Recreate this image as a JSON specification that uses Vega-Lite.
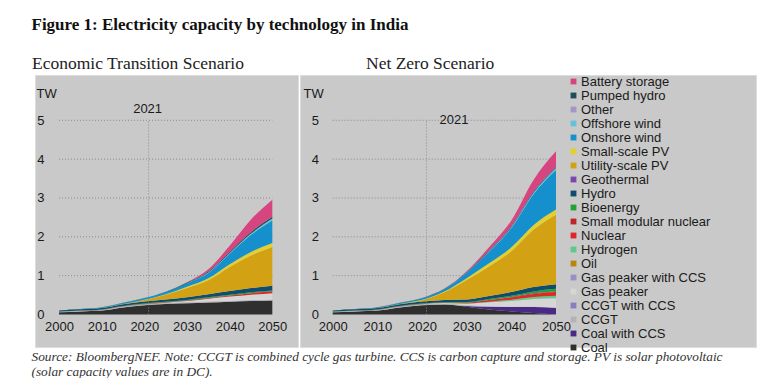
{
  "$schema": "https://vega.github.io/schema/vega-lite/v6.json",
  "background": "white",
  "padding": {"left": 31, "top": 16, "right": 14, "bottom": 0},
  "title": {"text": "Figure 1: Electricity capacity by technology in India", "anchor": "start", "font": "Liberation Serif", "fontSize": 17, "fontWeight": "bold", "color": "#111111", "offset": 20},
  "config": {
    "view": {"fill": "#c9c9c9", "stroke": "#dcdcdc", "strokeWidth": 1},
    "axis": {"labelFont": "Liberation Sans", "labelFontSize": 13, "labelColor": "#1a1a1a", "grid": false, "domain": false, "ticks": false, "titleFont": "Liberation Sans", "titleFontSize": 13, "titleFontWeight": "normal", "titleColor": "#1a1a1a"},
    "concat": {"spacing": 0}
  },
  "datasets": {
    "et": [
      {"year":2000,"tech":"Coal","tw":0.06},{"year":2005,"tech":"Coal","tw":0.08},{"year":2010,"tech":"Coal","tw":0.10},{"year":2015,"tech":"Coal","tw":0.18},{"year":2020,"tech":"Coal","tw":0.24},{"year":2025,"tech":"Coal","tw":0.27},{"year":2030,"tech":"Coal","tw":0.29},{"year":2035,"tech":"Coal","tw":0.31},{"year":2040,"tech":"Coal","tw":0.33},{"year":2045,"tech":"Coal","tw":0.35},{"year":2050,"tech":"Coal","tw":0.36},
      {"year":2000,"tech":"CCGT","tw":0.01},{"year":2005,"tech":"CCGT","tw":0.015},{"year":2010,"tech":"CCGT","tw":0.02},{"year":2015,"tech":"CCGT","tw":0.025},{"year":2020,"tech":"CCGT","tw":0.025},{"year":2025,"tech":"CCGT","tw":0.025},{"year":2030,"tech":"CCGT","tw":0.025},{"year":2035,"tech":"CCGT","tw":0.025},{"year":2040,"tech":"CCGT","tw":0.02},{"year":2045,"tech":"CCGT","tw":0.02},{"year":2050,"tech":"CCGT","tw":0.02},
      {"year":2000,"tech":"Gas peaker","tw":0},{"year":2005,"tech":"Gas peaker","tw":0},{"year":2010,"tech":"Gas peaker","tw":0},{"year":2015,"tech":"Gas peaker","tw":0},{"year":2020,"tech":"Gas peaker","tw":0},{"year":2025,"tech":"Gas peaker","tw":0.01},{"year":2030,"tech":"Gas peaker","tw":0.03},{"year":2035,"tech":"Gas peaker","tw":0.07},{"year":2040,"tech":"Gas peaker","tw":0.11},{"year":2045,"tech":"Gas peaker","tw":0.14},{"year":2050,"tech":"Gas peaker","tw":0.17},
      {"year":2000,"tech":"Nuclear","tw":0.003},{"year":2005,"tech":"Nuclear","tw":0.003},{"year":2010,"tech":"Nuclear","tw":0.005},{"year":2015,"tech":"Nuclear","tw":0.006},{"year":2020,"tech":"Nuclear","tw":0.007},{"year":2025,"tech":"Nuclear","tw":0.01},{"year":2030,"tech":"Nuclear","tw":0.015},{"year":2035,"tech":"Nuclear","tw":0.02},{"year":2040,"tech":"Nuclear","tw":0.03},{"year":2045,"tech":"Nuclear","tw":0.04},{"year":2050,"tech":"Nuclear","tw":0.05},
      {"year":2000,"tech":"Bioenergy","tw":0.002},{"year":2005,"tech":"Bioenergy","tw":0.003},{"year":2010,"tech":"Bioenergy","tw":0.005},{"year":2015,"tech":"Bioenergy","tw":0.008},{"year":2020,"tech":"Bioenergy","tw":0.01},{"year":2025,"tech":"Bioenergy","tw":0.012},{"year":2030,"tech":"Bioenergy","tw":0.014},{"year":2035,"tech":"Bioenergy","tw":0.016},{"year":2040,"tech":"Bioenergy","tw":0.018},{"year":2045,"tech":"Bioenergy","tw":0.02},{"year":2050,"tech":"Bioenergy","tw":0.02},
      {"year":2000,"tech":"Hydro","tw":0.027},{"year":2005,"tech":"Hydro","tw":0.032},{"year":2010,"tech":"Hydro","tw":0.038},{"year":2015,"tech":"Hydro","tw":0.045},{"year":2020,"tech":"Hydro","tw":0.05},{"year":2025,"tech":"Hydro","tw":0.06},{"year":2030,"tech":"Hydro","tw":0.07},{"year":2035,"tech":"Hydro","tw":0.08},{"year":2040,"tech":"Hydro","tw":0.095},{"year":2045,"tech":"Hydro","tw":0.11},{"year":2050,"tech":"Hydro","tw":0.12},
      {"year":2000,"tech":"Utility-scale PV","tw":0},{"year":2005,"tech":"Utility-scale PV","tw":0},{"year":2010,"tech":"Utility-scale PV","tw":0.001},{"year":2015,"tech":"Utility-scale PV","tw":0.005},{"year":2020,"tech":"Utility-scale PV","tw":0.04},{"year":2025,"tech":"Utility-scale PV","tw":0.12},{"year":2030,"tech":"Utility-scale PV","tw":0.24},{"year":2035,"tech":"Utility-scale PV","tw":0.36},{"year":2040,"tech":"Utility-scale PV","tw":0.62},{"year":2045,"tech":"Utility-scale PV","tw":0.84},{"year":2050,"tech":"Utility-scale PV","tw":1.0},
      {"year":2000,"tech":"Small-scale PV","tw":0},{"year":2005,"tech":"Small-scale PV","tw":0},{"year":2010,"tech":"Small-scale PV","tw":0},{"year":2015,"tech":"Small-scale PV","tw":0.001},{"year":2020,"tech":"Small-scale PV","tw":0.005},{"year":2025,"tech":"Small-scale PV","tw":0.015},{"year":2030,"tech":"Small-scale PV","tw":0.03},{"year":2035,"tech":"Small-scale PV","tw":0.05},{"year":2040,"tech":"Small-scale PV","tw":0.07},{"year":2045,"tech":"Small-scale PV","tw":0.09},{"year":2050,"tech":"Small-scale PV","tw":0.1},
      {"year":2000,"tech":"Onshore wind","tw":0.001},{"year":2005,"tech":"Onshore wind","tw":0.005},{"year":2010,"tech":"Onshore wind","tw":0.012},{"year":2015,"tech":"Onshore wind","tw":0.025},{"year":2020,"tech":"Onshore wind","tw":0.04},{"year":2025,"tech":"Onshore wind","tw":0.055},{"year":2030,"tech":"Onshore wind","tw":0.09},{"year":2035,"tech":"Onshore wind","tw":0.14},{"year":2040,"tech":"Onshore wind","tw":0.27},{"year":2045,"tech":"Onshore wind","tw":0.44},{"year":2050,"tech":"Onshore wind","tw":0.58},
      {"year":2000,"tech":"Offshore wind","tw":0},{"year":2005,"tech":"Offshore wind","tw":0},{"year":2010,"tech":"Offshore wind","tw":0},{"year":2015,"tech":"Offshore wind","tw":0},{"year":2020,"tech":"Offshore wind","tw":0},{"year":2025,"tech":"Offshore wind","tw":0},{"year":2030,"tech":"Offshore wind","tw":0.003},{"year":2035,"tech":"Offshore wind","tw":0.008},{"year":2040,"tech":"Offshore wind","tw":0.02},{"year":2045,"tech":"Offshore wind","tw":0.035},{"year":2050,"tech":"Offshore wind","tw":0.05},
      {"year":2000,"tech":"Pumped hydro","tw":0.001},{"year":2005,"tech":"Pumped hydro","tw":0.002},{"year":2010,"tech":"Pumped hydro","tw":0.003},{"year":2015,"tech":"Pumped hydro","tw":0.005},{"year":2020,"tech":"Pumped hydro","tw":0.005},{"year":2025,"tech":"Pumped hydro","tw":0.008},{"year":2030,"tech":"Pumped hydro","tw":0.015},{"year":2035,"tech":"Pumped hydro","tw":0.025},{"year":2040,"tech":"Pumped hydro","tw":0.035},{"year":2045,"tech":"Pumped hydro","tw":0.04},{"year":2050,"tech":"Pumped hydro","tw":0.045},
      {"year":2000,"tech":"Battery storage","tw":0},{"year":2005,"tech":"Battery storage","tw":0},{"year":2010,"tech":"Battery storage","tw":0},{"year":2015,"tech":"Battery storage","tw":0},{"year":2020,"tech":"Battery storage","tw":0},{"year":2025,"tech":"Battery storage","tw":0.002},{"year":2030,"tech":"Battery storage","tw":0.01},{"year":2035,"tech":"Battery storage","tw":0.06},{"year":2040,"tech":"Battery storage","tw":0.15},{"year":2045,"tech":"Battery storage","tw":0.32},{"year":2050,"tech":"Battery storage","tw":0.44}
    ],
    "nz": [
      {"year":2000,"tech":"Coal","tw":0.06},{"year":2005,"tech":"Coal","tw":0.08},{"year":2010,"tech":"Coal","tw":0.10},{"year":2015,"tech":"Coal","tw":0.18},{"year":2020,"tech":"Coal","tw":0.24},{"year":2025,"tech":"Coal","tw":0.26},{"year":2030,"tech":"Coal","tw":0.2},{"year":2035,"tech":"Coal","tw":0.13},{"year":2040,"tech":"Coal","tw":0.08},{"year":2045,"tech":"Coal","tw":0.04},{"year":2050,"tech":"Coal","tw":0},
      {"year":2000,"tech":"Coal with CCS","tw":0},{"year":2005,"tech":"Coal with CCS","tw":0},{"year":2010,"tech":"Coal with CCS","tw":0},{"year":2015,"tech":"Coal with CCS","tw":0},{"year":2020,"tech":"Coal with CCS","tw":0},{"year":2025,"tech":"Coal with CCS","tw":0},{"year":2030,"tech":"Coal with CCS","tw":0.02},{"year":2035,"tech":"Coal with CCS","tw":0.07},{"year":2040,"tech":"Coal with CCS","tw":0.11},{"year":2045,"tech":"Coal with CCS","tw":0.15},{"year":2050,"tech":"Coal with CCS","tw":0.17},
      {"year":2000,"tech":"CCGT","tw":0.01},{"year":2005,"tech":"CCGT","tw":0.015},{"year":2010,"tech":"CCGT","tw":0.02},{"year":2015,"tech":"CCGT","tw":0.025},{"year":2020,"tech":"CCGT","tw":0.025},{"year":2025,"tech":"CCGT","tw":0.025},{"year":2030,"tech":"CCGT","tw":0.02},{"year":2035,"tech":"CCGT","tw":0.015},{"year":2040,"tech":"CCGT","tw":0.01},{"year":2045,"tech":"CCGT","tw":0.01},{"year":2050,"tech":"CCGT","tw":0.01},
      {"year":2000,"tech":"Gas peaker","tw":0},{"year":2005,"tech":"Gas peaker","tw":0},{"year":2010,"tech":"Gas peaker","tw":0},{"year":2015,"tech":"Gas peaker","tw":0},{"year":2020,"tech":"Gas peaker","tw":0},{"year":2025,"tech":"Gas peaker","tw":0.01},{"year":2030,"tech":"Gas peaker","tw":0.04},{"year":2035,"tech":"Gas peaker","tw":0.1},{"year":2040,"tech":"Gas peaker","tw":0.15},{"year":2045,"tech":"Gas peaker","tw":0.2},{"year":2050,"tech":"Gas peaker","tw":0.24},
      {"year":2000,"tech":"Hydrogen","tw":0},{"year":2005,"tech":"Hydrogen","tw":0},{"year":2010,"tech":"Hydrogen","tw":0},{"year":2015,"tech":"Hydrogen","tw":0},{"year":2020,"tech":"Hydrogen","tw":0},{"year":2025,"tech":"Hydrogen","tw":0},{"year":2030,"tech":"Hydrogen","tw":0.005},{"year":2035,"tech":"Hydrogen","tw":0.015},{"year":2040,"tech":"Hydrogen","tw":0.03},{"year":2045,"tech":"Hydrogen","tw":0.05},{"year":2050,"tech":"Hydrogen","tw":0.06},
      {"year":2000,"tech":"Nuclear","tw":0.003},{"year":2005,"tech":"Nuclear","tw":0.003},{"year":2010,"tech":"Nuclear","tw":0.005},{"year":2015,"tech":"Nuclear","tw":0.006},{"year":2020,"tech":"Nuclear","tw":0.007},{"year":2025,"tech":"Nuclear","tw":0.01},{"year":2030,"tech":"Nuclear","tw":0.02},{"year":2035,"tech":"Nuclear","tw":0.04},{"year":2040,"tech":"Nuclear","tw":0.06},{"year":2045,"tech":"Nuclear","tw":0.08},{"year":2050,"tech":"Nuclear","tw":0.1},
      {"year":2000,"tech":"Small modular nuclear","tw":0},{"year":2005,"tech":"Small modular nuclear","tw":0},{"year":2010,"tech":"Small modular nuclear","tw":0},{"year":2015,"tech":"Small modular nuclear","tw":0},{"year":2020,"tech":"Small modular nuclear","tw":0},{"year":2025,"tech":"Small modular nuclear","tw":0},{"year":2030,"tech":"Small modular nuclear","tw":0},{"year":2035,"tech":"Small modular nuclear","tw":0.003},{"year":2040,"tech":"Small modular nuclear","tw":0.008},{"year":2045,"tech":"Small modular nuclear","tw":0.015},{"year":2050,"tech":"Small modular nuclear","tw":0.02},
      {"year":2000,"tech":"Bioenergy","tw":0.002},{"year":2005,"tech":"Bioenergy","tw":0.003},{"year":2010,"tech":"Bioenergy","tw":0.005},{"year":2015,"tech":"Bioenergy","tw":0.008},{"year":2020,"tech":"Bioenergy","tw":0.01},{"year":2025,"tech":"Bioenergy","tw":0.012},{"year":2030,"tech":"Bioenergy","tw":0.016},{"year":2035,"tech":"Bioenergy","tw":0.025},{"year":2040,"tech":"Bioenergy","tw":0.035},{"year":2045,"tech":"Bioenergy","tw":0.05},{"year":2050,"tech":"Bioenergy","tw":0.06},
      {"year":2000,"tech":"Hydro","tw":0.027},{"year":2005,"tech":"Hydro","tw":0.032},{"year":2010,"tech":"Hydro","tw":0.038},{"year":2015,"tech":"Hydro","tw":0.045},{"year":2020,"tech":"Hydro","tw":0.05},{"year":2025,"tech":"Hydro","tw":0.055},{"year":2030,"tech":"Hydro","tw":0.065},{"year":2035,"tech":"Hydro","tw":0.08},{"year":2040,"tech":"Hydro","tw":0.095},{"year":2045,"tech":"Hydro","tw":0.11},{"year":2050,"tech":"Hydro","tw":0.12},
      {"year":2000,"tech":"Utility-scale PV","tw":0},{"year":2005,"tech":"Utility-scale PV","tw":0},{"year":2010,"tech":"Utility-scale PV","tw":0.001},{"year":2015,"tech":"Utility-scale PV","tw":0.005},{"year":2020,"tech":"Utility-scale PV","tw":0.04},{"year":2025,"tech":"Utility-scale PV","tw":0.2},{"year":2030,"tech":"Utility-scale PV","tw":0.5},{"year":2035,"tech":"Utility-scale PV","tw":0.76},{"year":2040,"tech":"Utility-scale PV","tw":1.05},{"year":2045,"tech":"Utility-scale PV","tw":1.48},{"year":2050,"tech":"Utility-scale PV","tw":1.79},
      {"year":2000,"tech":"Small-scale PV","tw":0},{"year":2005,"tech":"Small-scale PV","tw":0},{"year":2010,"tech":"Small-scale PV","tw":0},{"year":2015,"tech":"Small-scale PV","tw":0.001},{"year":2020,"tech":"Small-scale PV","tw":0.005},{"year":2025,"tech":"Small-scale PV","tw":0.02},{"year":2030,"tech":"Small-scale PV","tw":0.05},{"year":2035,"tech":"Small-scale PV","tw":0.08},{"year":2040,"tech":"Small-scale PV","tw":0.1},{"year":2045,"tech":"Small-scale PV","tw":0.12},{"year":2050,"tech":"Small-scale PV","tw":0.13},
      {"year":2000,"tech":"Onshore wind","tw":0.001},{"year":2005,"tech":"Onshore wind","tw":0.005},{"year":2010,"tech":"Onshore wind","tw":0.012},{"year":2015,"tech":"Onshore wind","tw":0.025},{"year":2020,"tech":"Onshore wind","tw":0.04},{"year":2025,"tech":"Onshore wind","tw":0.06},{"year":2030,"tech":"Onshore wind","tw":0.14},{"year":2035,"tech":"Onshore wind","tw":0.3},{"year":2040,"tech":"Onshore wind","tw":0.5},{"year":2045,"tech":"Onshore wind","tw":0.8},{"year":2050,"tech":"Onshore wind","tw":1.02},
      {"year":2000,"tech":"Offshore wind","tw":0},{"year":2005,"tech":"Offshore wind","tw":0},{"year":2010,"tech":"Offshore wind","tw":0},{"year":2015,"tech":"Offshore wind","tw":0},{"year":2020,"tech":"Offshore wind","tw":0},{"year":2025,"tech":"Offshore wind","tw":0},{"year":2030,"tech":"Offshore wind","tw":0.005},{"year":2035,"tech":"Offshore wind","tw":0.01},{"year":2040,"tech":"Offshore wind","tw":0.02},{"year":2045,"tech":"Offshore wind","tw":0.035},{"year":2050,"tech":"Offshore wind","tw":0.05},
      {"year":2000,"tech":"Pumped hydro","tw":0.001},{"year":2005,"tech":"Pumped hydro","tw":0.002},{"year":2010,"tech":"Pumped hydro","tw":0.003},{"year":2015,"tech":"Pumped hydro","tw":0.005},{"year":2020,"tech":"Pumped hydro","tw":0.005},{"year":2025,"tech":"Pumped hydro","tw":0.008},{"year":2030,"tech":"Pumped hydro","tw":0.012},{"year":2035,"tech":"Pumped hydro","tw":0.02},{"year":2040,"tech":"Pumped hydro","tw":0.025},{"year":2045,"tech":"Pumped hydro","tw":0.03},{"year":2050,"tech":"Pumped hydro","tw":0.03},
      {"year":2000,"tech":"Battery storage","tw":0},{"year":2005,"tech":"Battery storage","tw":0},{"year":2010,"tech":"Battery storage","tw":0},{"year":2015,"tech":"Battery storage","tw":0},{"year":2020,"tech":"Battery storage","tw":0},{"year":2025,"tech":"Battery storage","tw":0.002},{"year":2030,"tech":"Battery storage","tw":0.02},{"year":2035,"tech":"Battery storage","tw":0.08},{"year":2040,"tech":"Battery storage","tw":0.15},{"year":2045,"tech":"Battery storage","tw":0.3},{"year":2050,"tech":"Battery storage","tw":0.4}
    ],
    "grid": [{"v":1},{"v":2},{"v":3},{"v":4},{"v":5}],
    "mark2021": [{"year":2021,"label":"2021"}]
  },
  "vconcat": [
    {
      "title": {"text": ["Source: BloombergNEF.  Note: CCGT is combined cycle gas turbine. CCS is carbon capture and storage. PV is solar photovoltaic", "(solar capacity values are in DC)."], "orient": "bottom", "anchor": "start", "font": "Liberation Serif", "fontSize": 13.3, "fontStyle": "italic", "fontWeight": "normal", "color": "#333333", "lineHeight": 15, "offset": -6},
      "resolve": {"legend": {"color": "independent"}},
      "hconcat": [
        {
          "width": 263,
          "height": 272,
          "title": {"text": "Economic Transition Scenario", "anchor": "start", "font": "Liberation Serif", "fontSize": 17.5, "fontWeight": "normal", "color": "#222222", "offset": 3, "dx": -3},
          "layer": [
            {
              "data": {"name": "grid"},
              "mark": {"type": "rule", "color": "#8a8a8a", "strokeDash": [1, 2], "strokeWidth": 1},
              "encoding": {
                "y": {"field": "v", "type": "quantitative", "scale": {"domain": [-0.837, 6.166], "nice": false, "zero": false},
                      "axis": {"values": [0, 1, 2, 3, 4, 5], "title": "TW", "titleAngle": 0, "titleAlign": "left", "titleBaseline": "middle", "titleX": -10, "titleY": 18, "offset": -11, "labelPadding": 2}},
                "x": {"datum": 2000, "type": "quantitative", "scale": {"domain": [1994.37, 2056.02], "nice": false, "zero": false},
                      "axis": {"values": [2000, 2010, 2020, 2030, 2040, 2050], "format": "d", "title": null, "offset": -32.5, "labelPadding": 6}},
                "x2": {"datum": 2050}
              }
            },
            {
              "data": {"name": "et"},
              "transform": [{"calculate": "indexof(['Battery storage','Pumped hydro','Other','Offshore wind','Onshore wind','Small-scale PV','Utility-scale PV','Geothermal','Hydro','Bioenergy','Small modular nuclear','Nuclear','Hydrogen','Oil','Gas peaker with CCS','Gas peaker','CCGT with CCS','CCGT','Coal with CCS','Coal'], datum.tech)", "as": "ord"}],
              "mark": {"type": "area", "interpolate": "monotone"},
              "encoding": {
                "x": {"field": "year", "type": "quantitative", "scale": {"domain": [1994.37, 2056.02], "nice": false, "zero": false},
                      "axis": {"values": [2000, 2010, 2020, 2030, 2040, 2050], "format": "d", "title": null, "offset": -32.5, "labelPadding": 6}},
                "y": {"field": "tw", "type": "quantitative", "stack": "zero", "scale": {"domain": [-0.837, 6.166], "nice": false, "zero": false},
                      "axis": {"values": [0, 1, 2, 3, 4, 5], "title": "TW", "titleAngle": 0, "titleAlign": "left", "titleBaseline": "middle", "titleX": -10, "titleY": 18, "offset": -11, "labelPadding": 2}},
                "color": {"field": "tech", "type": "nominal", "legend": null,
                  "scale": {"domain": ["Battery storage","Pumped hydro","Other","Offshore wind","Onshore wind","Small-scale PV","Utility-scale PV","Geothermal","Hydro","Bioenergy","Small modular nuclear","Nuclear","Hydrogen","Oil","Gas peaker with CCS","Gas peaker","CCGT with CCS","CCGT","Coal with CCS","Coal"],
                            "range": ["#d6457f","#1f4f55","#a596c8","#62c2dc","#1590cc","#e3d02e","#d2a214","#7b46b0","#0e4d6e","#22a03a","#c0242a","#e02626","#5ec98b","#b8860b","#9a8fc4","#d6d6d6","#8b7dc4","#b3b3b3","#4a2a85","#2f2f2f"]}},
                "order": {"field": "ord", "type": "quantitative", "sort": "descending"}
              }
            },
            {
              "data": {"name": "mark2021"},
              "mark": {"type": "rule", "color": "#8a8a8a", "strokeDash": [1, 2], "strokeWidth": 1},
              "encoding": {
                "x": {"field": "year", "type": "quantitative", "scale": {"domain": [1994.37, 2056.02], "nice": false, "zero": false},
                      "axis": {"values": [2000, 2010, 2020, 2030, 2040, 2050], "format": "d", "title": null, "offset": -32.5, "labelPadding": 6}},
                "y": {"datum": 0, "type": "quantitative", "scale": {"domain": [-0.837, 6.166], "nice": false, "zero": false},
                      "axis": {"values": [0, 1, 2, 3, 4, 5], "title": "TW", "titleAngle": 0, "titleAlign": "left", "titleBaseline": "middle", "titleX": -10, "titleY": 18, "offset": -11, "labelPadding": 2}},
                "y2": {"datum": 5}
              }
            },
            {
              "data": {"name": "mark2021"},
              "mark": {"type": "text", "font": "Liberation Sans", "fontSize": 13, "color": "#1a1a1a", "align": "center", "baseline": "middle", "dy": -11, "dx": -1},
              "encoding": {
                "x": {"field": "year", "type": "quantitative", "scale": {"domain": [1994.37, 2056.02], "nice": false, "zero": false},
                      "axis": {"values": [2000, 2010, 2020, 2030, 2040, 2050], "format": "d", "title": null, "offset": -32.5, "labelPadding": 6}},
                "y": {"datum": 5, "type": "quantitative", "scale": {"domain": [-0.837, 6.166], "nice": false, "zero": false},
                      "axis": {"values": [0, 1, 2, 3, 4, 5], "title": "TW", "titleAngle": 0, "titleAlign": "left", "titleBaseline": "middle", "titleX": -10, "titleY": 18, "offset": -11, "labelPadding": 2}},
                "text": {"field": "label"}
              }
            }
          ]
        },
        {
          "width": 456,
          "height": 272,
          "title": {"text": "Net Zero Scenario", "anchor": "start", "font": "Liberation Serif", "fontSize": 17.5, "fontWeight": "normal", "color": "#222222", "offset": 3, "dx": 66},
          "layer": [
            {
              "data": {"name": "grid"},
              "mark": {"type": "rule", "color": "#8a8a8a", "strokeDash": [1, 2], "strokeWidth": 1},
              "encoding": {
                "y": {"field": "v", "type": "quantitative", "scale": {"domain": [-0.837, 6.166], "nice": false, "zero": false},
                      "axis": {"values": [0, 1, 2, 3, 4, 5], "title": "TW", "titleAngle": 0, "titleAlign": "left", "titleBaseline": "middle", "titleX": -17.5, "titleY": 18, "offset": -20.5, "labelPadding": 2}},
                "x": {"datum": 2000, "type": "quantitative", "scale": {"domain": [1992.68, 2094.78], "nice": false, "zero": false},
                      "axis": {"values": [2000, 2010, 2020, 2030, 2040, 2050], "format": "d", "title": null, "offset": -32.5, "labelPadding": 6}},
                "x2": {"datum": 2050}
              }
            },
            {
              "data": {"name": "nz"},
              "transform": [{"calculate": "indexof(['Battery storage','Pumped hydro','Other','Offshore wind','Onshore wind','Small-scale PV','Utility-scale PV','Geothermal','Hydro','Bioenergy','Small modular nuclear','Nuclear','Hydrogen','Oil','Gas peaker with CCS','Gas peaker','CCGT with CCS','CCGT','Coal with CCS','Coal'], datum.tech)", "as": "ord"}],
              "mark": {"type": "area", "interpolate": "monotone"},
              "encoding": {
                "x": {"field": "year", "type": "quantitative", "scale": {"domain": [1992.68, 2094.78], "nice": false, "zero": false},
                      "axis": {"values": [2000, 2010, 2020, 2030, 2040, 2050], "format": "d", "title": null, "offset": -32.5, "labelPadding": 6}},
                "y": {"field": "tw", "type": "quantitative", "stack": "zero", "scale": {"domain": [-0.837, 6.166], "nice": false, "zero": false},
                      "axis": {"values": [0, 1, 2, 3, 4, 5], "title": "TW", "titleAngle": 0, "titleAlign": "left", "titleBaseline": "middle", "titleX": -17.5, "titleY": 18, "offset": -20.5, "labelPadding": 2}},
                "color": {"field": "tech", "type": "nominal",
                  "scale": {"domain": ["Battery storage","Pumped hydro","Other","Offshore wind","Onshore wind","Small-scale PV","Utility-scale PV","Geothermal","Hydro","Bioenergy","Small modular nuclear","Nuclear","Hydrogen","Oil","Gas peaker with CCS","Gas peaker","CCGT with CCS","CCGT","Coal with CCS","Coal"],
                            "range": ["#d6457f","#1f4f55","#a596c8","#62c2dc","#1590cc","#e3d02e","#d2a214","#7b46b0","#0e4d6e","#22a03a","#c0242a","#e02626","#5ec98b","#b8860b","#9a8fc4","#d6d6d6","#8b7dc4","#b3b3b3","#4a2a85","#2f2f2f"]},
                  "legend": {"orient": "none", "legendX": 267, "legendY": 0, "title": null, "symbolType": "square", "symbolSize": 34, "symbolStrokeWidth": 0, "labelFont": "Liberation Sans", "labelFontSize": 13, "labelColor": "#1a1a1a", "rowPadding": -1, "labelOffset": 1, "padding": 0, "labelLimit": 200}},
                "order": {"field": "ord", "type": "quantitative", "sort": "descending"}
              }
            },
            {
              "data": {"name": "mark2021"},
              "mark": {"type": "rule", "color": "#8a8a8a", "strokeDash": [1, 2], "strokeWidth": 1},
              "encoding": {
                "x": {"field": "year", "type": "quantitative", "scale": {"domain": [1992.68, 2094.78], "nice": false, "zero": false},
                      "axis": {"values": [2000, 2010, 2020, 2030, 2040, 2050], "format": "d", "title": null, "offset": -32.5, "labelPadding": 6}},
                "y": {"datum": 0, "type": "quantitative", "scale": {"domain": [-0.837, 6.166], "nice": false, "zero": false},
                      "axis": {"values": [0, 1, 2, 3, 4, 5], "title": "TW", "titleAngle": 0, "titleAlign": "left", "titleBaseline": "middle", "titleX": -17.5, "titleY": 18, "offset": -20.5, "labelPadding": 2}},
                "y2": {"datum": 5}
              }
            },
            {
              "data": {"name": "mark2021"},
              "mark": {"type": "text", "font": "Liberation Sans", "fontSize": 13, "color": "#1a1a1a", "align": "left", "baseline": "middle", "dx": 13},
              "encoding": {
                "x": {"field": "year", "type": "quantitative", "scale": {"domain": [1992.68, 2094.78], "nice": false, "zero": false},
                      "axis": {"values": [2000, 2010, 2020, 2030, 2040, 2050], "format": "d", "title": null, "offset": -32.5, "labelPadding": 6}},
                "y": {"datum": 5, "type": "quantitative", "scale": {"domain": [-0.837, 6.166], "nice": false, "zero": false},
                      "axis": {"values": [0, 1, 2, 3, 4, 5], "title": "TW", "titleAngle": 0, "titleAlign": "left", "titleBaseline": "middle", "titleX": -17.5, "titleY": 18, "offset": -20.5, "labelPadding": 2}},
                "text": {"field": "label"}
              }
            }
          ]
        }
      ]
    }
  ]
}
